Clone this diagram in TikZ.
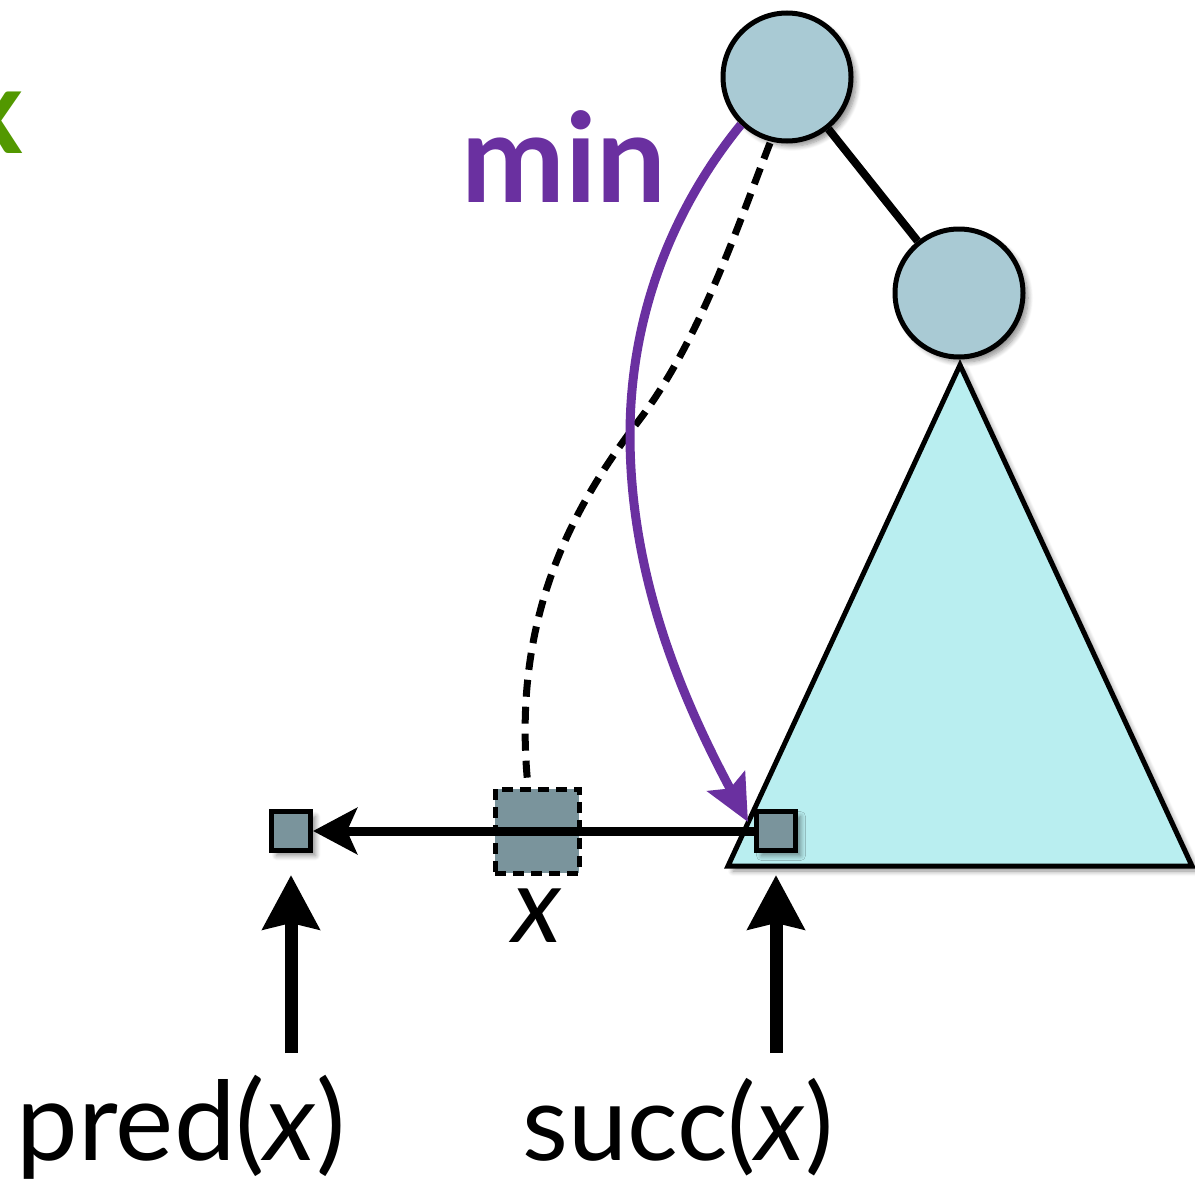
\documentclass[tikz,border=0pt]{standalone}
\usepackage{fontspec}
\setmainfont{Lato}
\usetikzlibrary{arrows.meta,shadows.blur}
\definecolor{nodefill}{RGB}{169,202,212}
\definecolor{trifill}{RGB}{185,238,240}
\definecolor{sqfill}{RGB}{122,148,156}
\definecolor{minpurple}{RGB}{106,48,160}
\definecolor{xgreen}{RGB}{82,152,0}
\tikzset{
  softshadow/.style={blur shadow={shadow xshift=5pt,shadow yshift=-5pt,shadow blur steps=8,shadow blur radius=5pt,shadow opacity=45}},
  treenode/.style={circle,draw=black,line width=5pt,fill=nodefill,minimum size=128pt,inner sep=0pt,softshadow},
  elem/.style={rectangle,draw=black,line width=5pt,fill=sqfill,minimum size=39pt,inner sep=0pt,softshadow},
  ghost/.style={rectangle,draw=black,line width=5pt,dash pattern=on 11pt off 7pt,fill=sqfill,minimum size=84pt,inner sep=0pt},
  edge/.style={line width=8pt,black},
  minarrow/.style={line width=9pt,minpurple,-{Stealth[length=46pt,width=42pt,inset=8pt]}},
  dashpath/.style={line width=7pt,black,dash pattern=on 17pt off 10pt},
  listarrow/.style={line width=9pt,black,-{Stealth[length=44pt,width=46pt,inset=10pt]}},
  uparrow/.style={line width=13pt,black,-{Stealth[length=54pt,width=56pt,inset=6pt]}},
  bigtext/.style={font=\fontsize{106}{116}\selectfont,inner sep=0pt},
}
\begin{document}
\begin{tikzpicture}[x=1pt,y=-1pt]
\useasboundingbox (0,0) rectangle (1195,1191);
% green letter, cut by the picture's left edge as in the reference
\node[anchor=base,inner sep=0pt,text=xgreen,font=\fontsize{120}{130}\selectfont\bfseries] (gx) at (-8,153) {x};
% subtree triangle
\coordinate (tA) at (960,365);
\coordinate (tB) at (728,866);
\coordinate (tC) at (1192,866);
\filldraw[fill=trifill,draw=black,line width=5pt,line join=miter,softshadow] (tA) -- (tB) -- (tC) -- cycle;
% tree nodes
\node[treenode] (top) at (787,77) {};
\node[treenode] (right) at (959,293) {};
\draw[edge] (top) -- (right);
% list elements
\node[elem] (pred) at (291,831) {};
\node[elem] (succ) at (776,831) {};
\node[ghost] (xs) at (537,831) {};
% horizontal arrow
\draw[listarrow] (succ.west) -- (pred.east);
% dashed search path
\coordinate (dstart) at (770,143);
\coordinate (dmid) at (637,423);
\draw[dashpath] (dstart) .. controls (734,236) and (698,344) .. (dmid)
  .. controls (558,526) and (513,636) .. (xs.north -| 528,0);
% purple min path
\coordinate (pmid) at (630,435);
\coordinate (ptip) at (748,822);
\draw[minarrow] (top.226) .. controls (670,212) and (630,319) .. (pmid)
  .. controls (630,575) and (681,697) .. (ptip);
\node[anchor=base,inner sep=0pt,text=minpurple,font=\fontsize{124}{130}\selectfont\bfseries] (minlbl) at (564,202) {min};
% up arrows
\coordinate (pbase) at (pred.south |- 0,1053);
\coordinate (sbase) at (succ.south |- 0,1053);
\draw[uparrow,shorten >=22pt] (pbase) -- (pred.south);
\draw[uparrow,shorten >=22pt] (sbase) -- (succ.south);
% labels
\node[bigtext,anchor=base] (xlbl) at (537,942) {\textit{x}};
\node[bigtext,anchor=base,font=\fontsize{110}{116}\selectfont] (predlbl) at (181,1160) {pred(\textit{x})};
\node[bigtext,anchor=base] (succlbl) at (678,1160) {succ(\textit{x})};
\end{tikzpicture}
\end{document}
